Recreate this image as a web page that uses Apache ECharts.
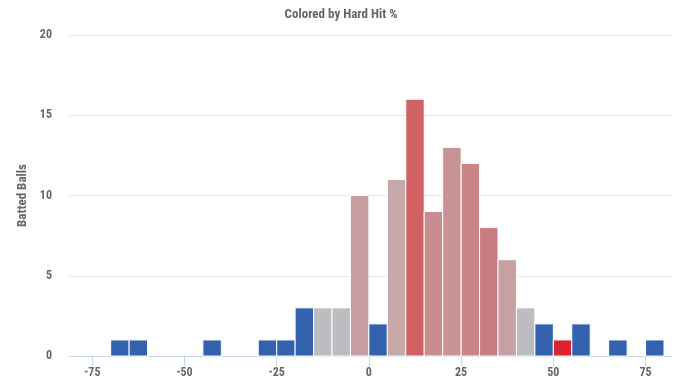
<!DOCTYPE html>
<html>
<head>
<meta charset="utf-8">
<script src="https://cdn.jsdelivr.net/npm/echarts@6/dist/echarts.min.js"></script>
<style>html,body{margin:0;padding:0;background:#fff;}#c{width:682px;height:384px;}</style>
</head>
<body>
<div id="c"></div>
<script>
var binStarts = [-70, -65, -45, -30, -25, -20, -15, -10, -5, 0, 5, 10, 15, 20, 25, 30, 35, 40, 45, 50, 55, 65, 75];
var counts    = [1, 1, 1, 1, 1, 3, 3, 3, 10, 2, 11, 16, 9, 13, 12, 8, 6, 3, 2, 1, 2, 1, 1];
var binColors = ['#3461ae','#3461ae','#3461ae','#3461ae','#3461ae','#3461ae','#bcbdc1','#bcbdc1','#c99d9f','#3461ae','#c8a9aa','#d06165','#c98d90','#c99295','#c98588','#c97c7f','#c9a0a1','#bcbdc1','#3461ae','#d9232d','#3461ae','#3461ae','#3461ae'];
var binWidth = 5;
var xTicks = [-75, -50, -25, 0, 25, 50, 75];
var yTicks = [0, 5, 10, 15, 20];

var font = "'Roboto Condensed','Liberation Sans Narrow','DejaVu Sans Condensed',Roboto,sans-serif";
var data = binStarts.map(function (s, i) { return [s, s + binWidth, counts[i], i]; });

var chart = echarts.init(document.getElementById('c'));
chart.setOption({
  animation: false,
  title: {
    text: 'Colored by Hard Hit %', left: 'center', top: 3,
    textStyle: { fontFamily: font, fontWeight: 'bold', fontSize: 13, color: '#666666' }
  },
  grid: { left: 69, right: 11, top: 35, bottom: 28 },
  xAxis: {
    type: 'value', min: -81.3, max: 81.9,
    axisLine: { show: true, lineStyle: { color: '#ccd6eb' } },
    axisTick: { show: true, length: 10, customValues: xTicks, lineStyle: { color: '#ccd6eb' } },
    axisLabel: { customValues: xTicks, fontFamily: font, fontWeight: 'bold', fontSize: 12, color: '#666666', margin: 11 },
    splitLine: { show: false }
  },
  yAxis: {
    type: 'value', min: 0, max: 20, interval: 5,
    name: 'Batted Balls', nameLocation: 'middle', nameGap: 38,
    nameTextStyle: { fontFamily: font, fontWeight: 'bold', fontSize: 13, color: '#666666' },
    axisLine: { show: false }, axisTick: { show: false },
    axisLabel: { customValues: yTicks, fontFamily: font, fontWeight: 'bold', fontSize: 12, color: '#666666', margin: 17 },
    splitLine: { lineStyle: { color: '#e6e6e6' } }
  },
  series: [{
    type: 'custom',
    data: data,
    encode: { x: [0, 1], y: 2 },
    renderItem: function (params, api) {
      var p0 = api.coord([api.value(0), 0]);
      var p1 = api.coord([api.value(1), api.value(2)]);
      var idx = api.value(3);
      return {
        type: 'rect',
        shape: { x: p0[0], y: p1[1], width: p1[0] - p0[0], height: p0[1] - p1[1] },
        style: { fill: binColors[idx], stroke: '#ffffff', lineWidth: 1 }
      };
    }
  }]
});
</script>
</body>
</html>
